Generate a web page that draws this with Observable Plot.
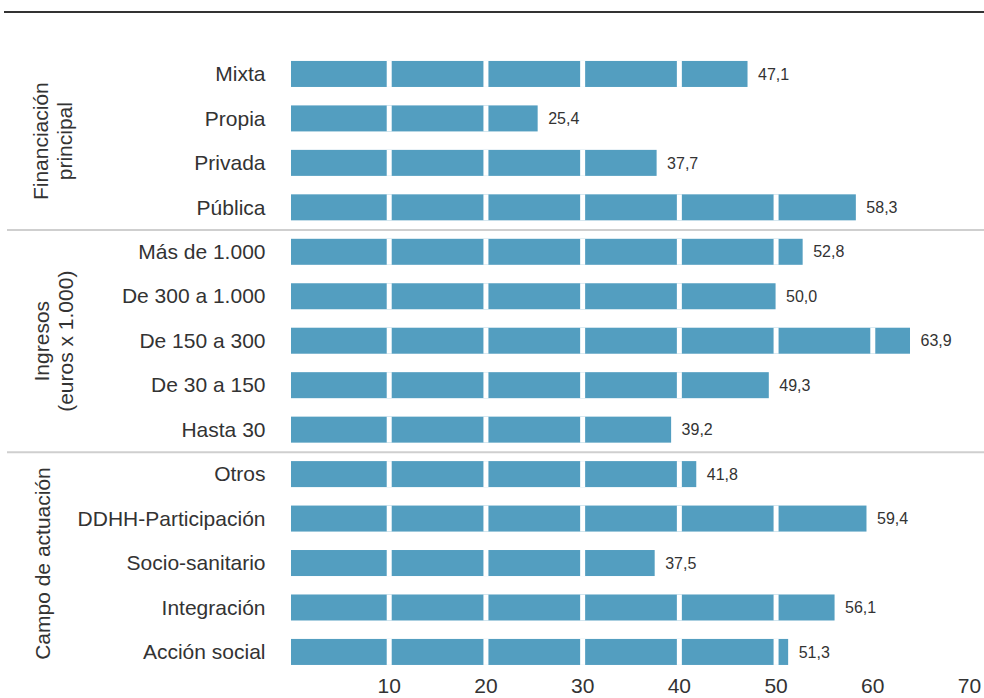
<!DOCTYPE html>
<html><head><meta charset="utf-8">
<script src="https://cdn.jsdelivr.net/npm/d3@7"></script>
<script src="https://cdn.jsdelivr.net/npm/@observablehq/plot@0.6"></script>
<style>
body{margin:0;background:#fff;font-family:"Liberation Sans",Arial,sans-serif;}
#toprule{height:11px;margin-left:4px;border-bottom:2px solid #333;}
#chart svg{display:block;overflow:visible;}
</style></head><body>
<div id="toprule"></div>
<div id="chart"></div>
<script>
// Data
const financiacion = ["Mixta", "Propia", "Privada", "Pública"];
const financiacionValues = [47.1, 25.4, 37.7, 58.3];
const ingresos = ["Más de 1.000", "De 300 a 1.000", "De 150 a 300", "De 30 a 150", "Hasta 30"];
const ingresosValues = [52.8, 50.0, 63.9, 49.3, 39.2];
const campo = ["Otros", "DDHH-Participación", "Socio-sanitario", "Integración", "Acción social"];
const campoValues = [41.8, 59.4, 37.5, 56.1, 51.3];
const groupLabels = ["Financiación\nprincipal", "Ingresos\n(euros x 1.000)", "Campo de actuación"];
const xTicks = [10, 20, 30, 40, 50, 60, 70];

const categories = [...financiacion, ...ingresos, ...campo];
const values = [...financiacionValues, ...ingresosValues, ...campoValues];
const data = categories.map((c, i) => ({cat: c, value: values[i]}));
const gaps = data.flatMap(d => xTicks.filter(t => t < d.value).map(t => ({cat: d.cat, t})));
const fmt = v => d3.format(".1f")(v).replace(".", ",");

const step = (670.4 - 29.5) / (categories.length + 0.415);
const separators = [financiacion[financiacion.length - 1], ingresos[ingresos.length - 1]];
const groupText = {rotate: -90, textAnchor: "middle", lineAnchor: "middle", lineHeight: 1.15, fontSize: 21, fill: "#333", frameAnchor: "left", text: d => d.label, y: d => d.cat};

const chart = Plot.plot({
  width: 984,
  height: 685,
  marginLeft: 292,
  marginRight: 15,
  marginTop: 0,
  marginBottom: 20,
  style: {fontFamily: "'Liberation Sans', Arial, sans-serif", fontSize: "21px", color: "#333", background: "white"},
  x: {domain: [0, 70]},
  y: {domain: categories, range: [29.5, 670.4], padding: 0.415, round: false, label: null},
  marks: [
    Plot.barX(data, {x: "value", y: "cat", fill: "#539ec0", insetLeft: -1}),
    Plot.tickX(gaps, {x: "t", y: "cat", stroke: "white", strokeWidth: 5}),
    Plot.text(data, {x: "value", y: "cat", text: d => fmt(d.value), textAnchor: "start", dx: 10, fontSize: 16, fill: "#333"}),
    Plot.ruleY(separators, {y: d => d, dy: step / 2, stroke: "#cfcfcf", strokeWidth: 2, insetLeft: -285, insetRight: -15}),
    Plot.text([{label: groupLabels[0], cat: financiacion[1]}], {...groupText, dx: -240, dy: step / 2}),
    Plot.text([{label: groupLabels[1], cat: ingresos[2]}], {...groupText, dx: -239}),
    Plot.text([{label: groupLabels[2], cat: campo[2]}], {...groupText, dx: -250}),
    Plot.axisX({ticks: xTicks, tickSize: 0, tickPadding: 0, fontSize: 21, tickFormat: d => String(d), label: null}),
    Plot.axisY({tickSize: 0, tickPadding: 27, fontSize: 21, label: null})
  ]
});
document.getElementById("chart").appendChild(chart);
</script></body></html>
